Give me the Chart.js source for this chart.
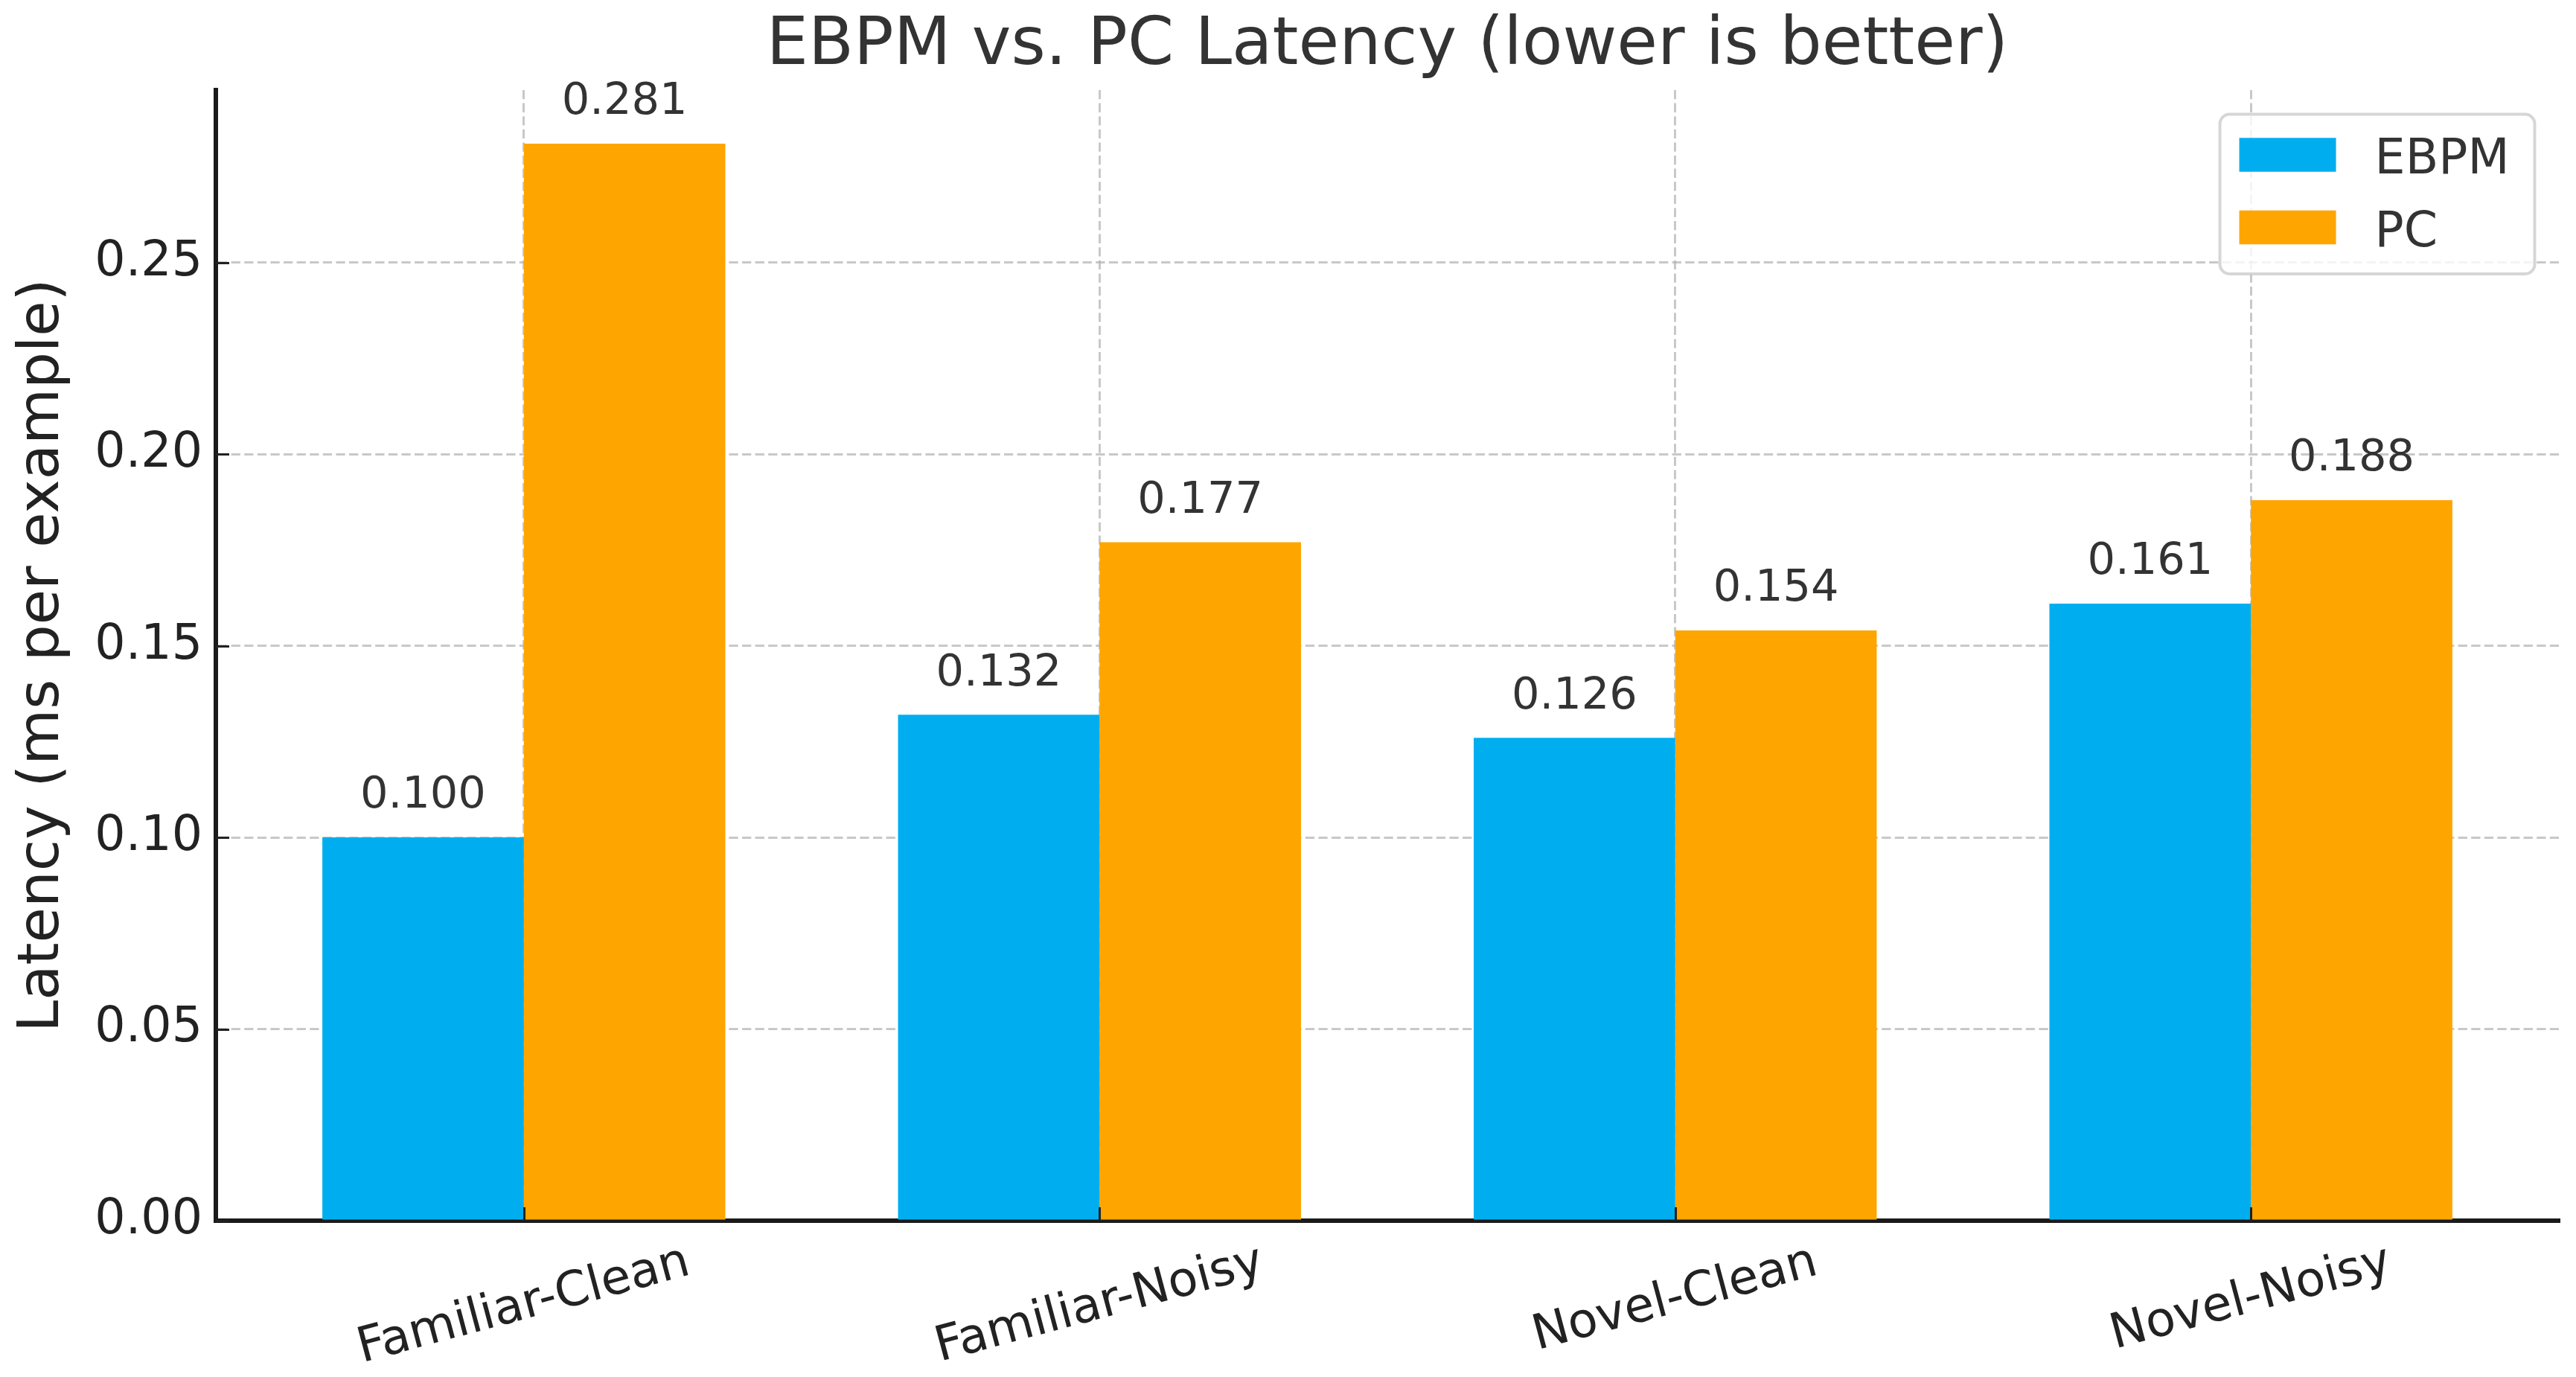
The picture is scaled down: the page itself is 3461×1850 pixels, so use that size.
<!DOCTYPE html>
<html><head><meta charset="utf-8">
<script src="https://cdn.jsdelivr.net/npm/chart.js@4.4.1/dist/chart.umd.min.js"></script>
<style>html,body{margin:0;padding:0;background:#fff;} canvas{display:block;}</style>
</head><body>
<canvas id="c" width="3461" height="1850" style="width:3461px;height:1850px"></canvas>
<script>
const categories = ['Familiar-Clean', 'Familiar-Noisy', 'Novel-Clean', 'Novel-Noisy'];
const seriesNames = ['EBPM', 'PC'];
const ebpmValues = [0.100, 0.132, 0.126, 0.161];
const pcValues = [0.281, 0.177, 0.154, 0.188];
const yTickValues = [0, 0.05, 0.10, 0.15, 0.20, 0.25];
const yTickLabels = ['0.00', '0.05', '0.10', '0.15', '0.20', '0.25'];
const titleText = 'EBPM vs. PC Latency (lower is better)';
const yAxisTitle = 'Latency (ms per example)';

const FONT = 'DejaVu Sans';
const GRID = 'rgba(176,176,176,0.7)';

function roundRectPath(ctx, x, y, w, h, r) {
  ctx.beginPath();
  ctx.moveTo(x + r, y);
  ctx.lineTo(x + w - r, y);
  ctx.arcTo(x + w, y, x + w, y + r, r);
  ctx.lineTo(x + w, y + h - r);
  ctx.arcTo(x + w, y + h, x + w - r, y + h, r);
  ctx.lineTo(x + r, y + h);
  ctx.arcTo(x, y + h, x, y + h - r, r);
  ctx.lineTo(x, y + r);
  ctx.arcTo(x, y, x + r, y, r);
  ctx.closePath();
}

const overlay = {
  id: 'overlay',
  afterDraw(chart) {
    const {ctx, chartArea: ca, scales} = chart;
    const x = scales.x, y = scales.y;
    ctx.save();
    // inward tick marks
    ctx.strokeStyle = '#222';
    ctx.lineWidth = 3;
    y.ticks.forEach(t => {
      const py = Math.round(y.getPixelForValue(t.value)) + 0.5;
      ctx.beginPath(); ctx.moveTo(ca.left, py); ctx.lineTo(ca.left + 18, py); ctx.stroke();
    });
    x.ticks.forEach(t => {
      const px = Math.round(x.getPixelForValue(t.value)) + 0.5;
      ctx.beginPath(); ctx.moveTo(px, ca.bottom); ctx.lineTo(px, ca.bottom - 18); ctx.stroke();
    });

    // value labels
    const vfs = 59;
    ctx.font = vfs + 'px "' + FONT + '"';
    ctx.fillStyle = '#333';
    ctx.textAlign = 'center';
    ctx.textBaseline = 'alphabetic';
    chart.data.datasets.forEach((ds, di) => {
      const meta = chart.getDatasetMeta(di);
      meta.data.forEach((bar, i) => {
        const v = ds.data[i].y;
        const py = y.getPixelForValue(v + 0.005) - 0.236 * vfs;
        ctx.fillText(v.toFixed(3), bar.x, py);
      });
    });

    // category labels (rotated 15deg, centred)
    const xfs = 65;
    ctx.font = xfs + 'px "' + FONT + '"';
    ctx.fillStyle = '#222';
    const rot = 15 * Math.PI / 180;
    categories.forEach((lab, i) => {
      const w = ctx.measureText(lab).width;
      const h = w * Math.sin(rot) + xfs * Math.cos(rot);
      const cx = x.getPixelForValue(i);
      const cy = ca.bottom + 24 + h / 2;
      ctx.save();
      ctx.translate(cx, cy);
      ctx.rotate(-rot);
      ctx.textAlign = 'center';
      ctx.textBaseline = 'middle';
      ctx.fillText(lab, 0, 0);
      ctx.restore();
    });

    // legend
    const fs = 65;
    ctx.font = fs + 'px "' + FONT + '"';
    const dsets = chart.data.datasets;
    const tw = Math.max(...dsets.map(d => ctx.measureText(d.label).width));
    const pad = 0.4 * fs, hl = 2 * fs, htp = 0.8 * fs, rowH = fs, sp = 0.5 * fs;
    const bw = pad * 2 + hl + htp + tw + 8;
    const bh = pad * 2 + rowH * dsets.length + sp * (dsets.length - 1);
    const bx = ca.right - 0.5 * fs - bw, by = ca.top + 0.5 * fs;
    roundRectPath(ctx, bx, by, bw, bh, 13);
    ctx.fillStyle = 'rgba(255,255,255,0.8)';
    ctx.fill();
    ctx.strokeStyle = 'rgba(204,204,204,0.8)';
    ctx.lineWidth = 4;
    ctx.stroke();
    dsets.forEach((d, i) => {
      const rowTop = by + pad + i * (rowH + sp);
      const cyr = rowTop + rowH / 2 - 4;
      ctx.fillStyle = d.backgroundColor;
      ctx.fillRect(bx + pad, cyr - 0.35 * fs, hl, 0.7 * fs);
      ctx.fillStyle = '#333';
      ctx.textAlign = 'left';
      ctx.textBaseline = 'alphabetic';
      ctx.fillText(d.label, bx + pad + hl + htp, cyr + 25);
    });
    ctx.restore();
  }
};

new Chart(document.getElementById('c'), {
  type: 'bar',
  data: {
    datasets: [
      { label: seriesNames[0], data: ebpmValues.map((v, i) => ({x: i, y: v})), backgroundColor: '#00AEEF', borderWidth: 0 },
      { label: seriesNames[1], data: pcValues.map((v, i) => ({x: i, y: v})), backgroundColor: '#FFA500', borderWidth: 0 }
    ]
  },
  options: {
    responsive: false,
    animation: false,
    devicePixelRatio: 1,
    datasets: { bar: { categoryPercentage: 0.7, barPercentage: 1.0, grouped: true } },
    layout: { padding: { left: 0, right: 23, top: 0, bottom: 0 } },
    plugins: {
      legend: { display: false },
      tooltip: { enabled: false },
      title: {
        display: true, text: titleText, fullSize: false, color: '#333',
        font: { family: FONT, size: 89, weight: 'normal', lineHeight: 1 },
        padding: { top: 18, bottom: 14 }
      }
    },
    scales: {
      x: {
        type: 'linear', min: -0.535, max: 3.535, offset: false, z: 1,
        afterBuildTicks: s => { s.ticks = categories.map((_, i) => ({value: i})); },
        afterFit: s => { s.height = 210; },
        ticks: { display: false },
        grid: { display: true, offset: false, drawTicks: false, color: GRID, lineWidth: 3 },
        border: { display: true, color: '#1a1a1a', width: 6, dash: [12.3, 5.3] }
      },
      y: {
        type: 'linear', min: 0, max: 0.295, z: 1,
        afterBuildTicks: s => { s.ticks = yTickValues.map(v => ({value: v})); },
        afterFit: s => { s.width = 290; },
        ticks: { callback: (v, i) => yTickLabels[i], color: '#222', font: { family: FONT, size: 65 }, padding: 18 },
        grid: { color: GRID, lineWidth: 3, drawTicks: false },
        border: { display: true, color: '#1a1a1a', width: 6, dash: [12.3, 5.3] },
        title: {
          display: true, text: yAxisTitle, color: '#222',
          font: { family: FONT, size: 77, lineHeight: 1 },
          padding: { top: 19, bottom: 0 }
        }
      }
    }
  },
  plugins: [overlay]
});
</script>
</body></html>
